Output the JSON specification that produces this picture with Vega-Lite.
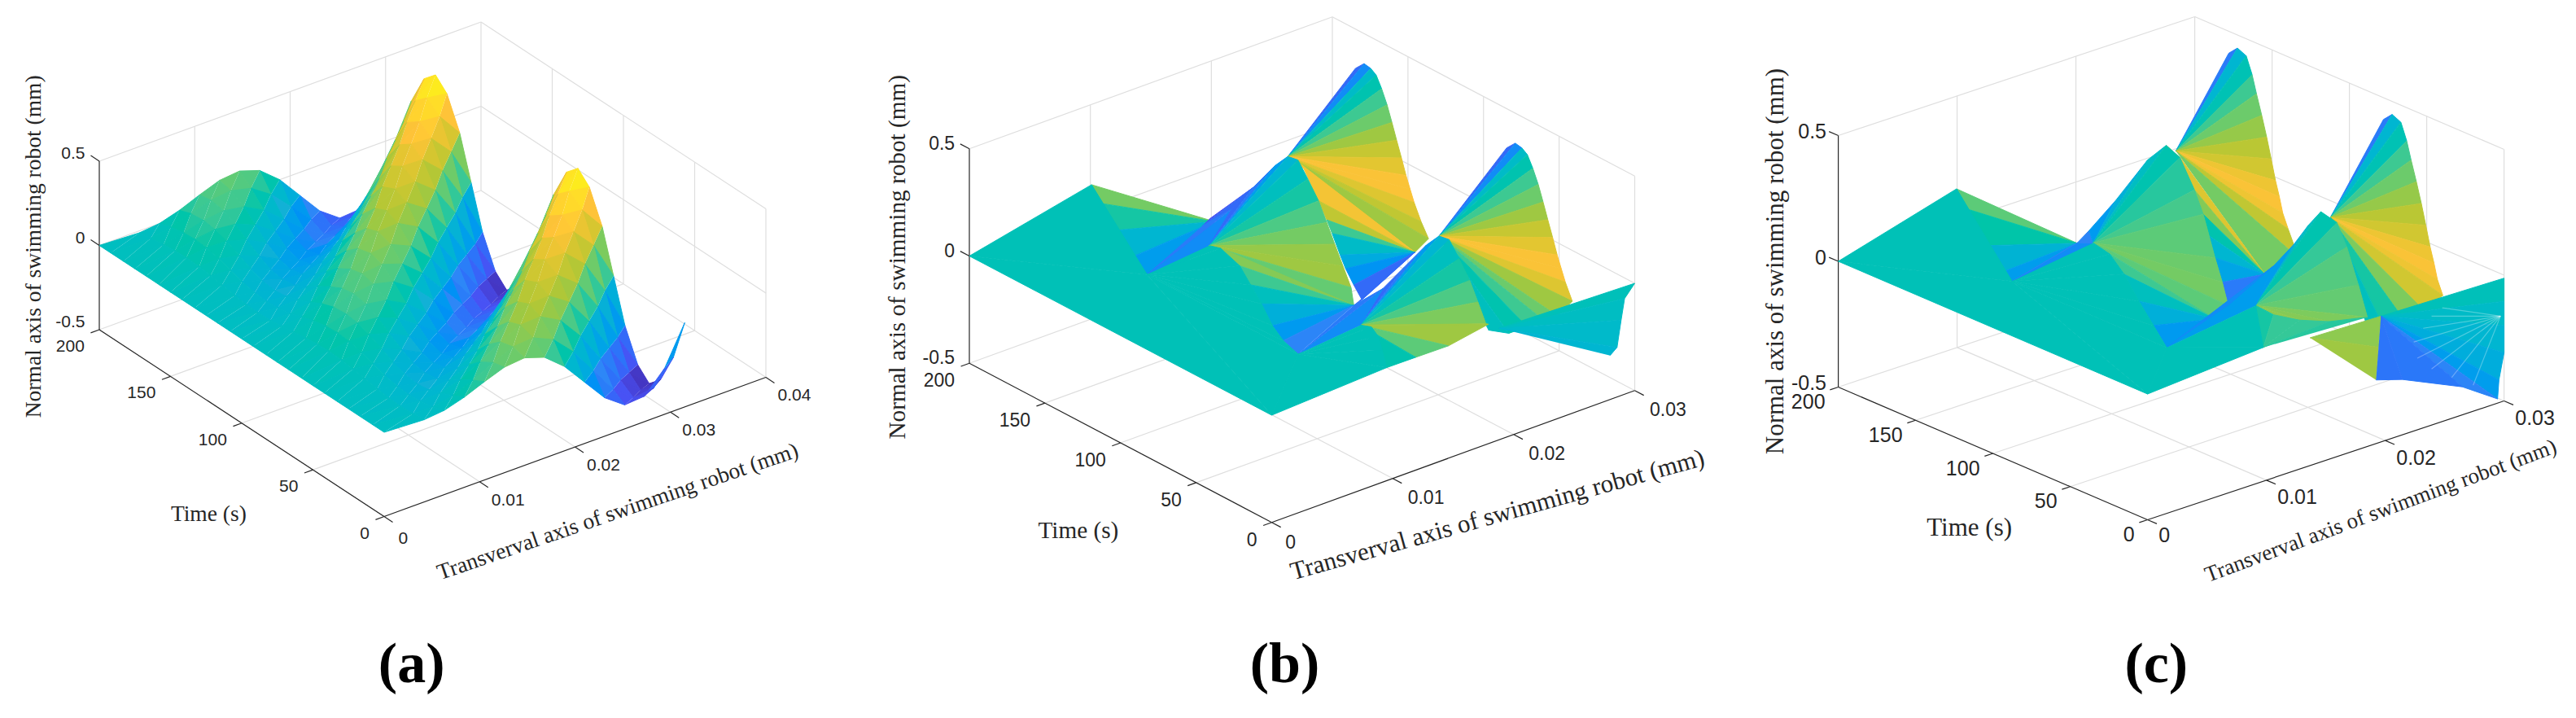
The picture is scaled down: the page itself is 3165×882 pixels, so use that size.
{"$schema":"https://vega.github.io/schema/vega-lite/v6.json","width":3165,"height":882,"autosize":{"type":"none"},"padding":0,"background":"white","config":{"view":{"stroke":null}},
"resolve":{"scale":{"size":"independent"}},
"params":[{"name":"P","value":{"a":{"ox":472,"oy":531,"xm":0.04,"xx":469,"xy":-171,"tx":-350,"ty":-229.5,"zy":207},"b":{"ox":1562.5,"oy":510,"xm":0.03,"xx":446,"xy":-162,"tx":-371.5,"ty":-195.5,"zy":263.5},"c":{"ox":2638.6,"oy":484,"xm":0.03,"xx":438,"xy":-146,"tx":-380,"ty":-163,"zy":309}}}],
"datasets":{
"grid":[
{"p":"a","x":0,"t":0,"z":-0.5,"x2":0,"t2":200,"z2":-0.5},{"p":"a","x":0.01,"t":0,"z":-0.5,"x2":0.01,"t2":200,"z2":-0.5},{"p":"a","x":0.02,"t":0,"z":-0.5,"x2":0.02,"t2":200,"z2":-0.5},{"p":"a","x":0.03,"t":0,"z":-0.5,"x2":0.03,"t2":200,"z2":-0.5},{"p":"a","x":0.04,"t":0,"z":-0.5,"x2":0.04,"t2":200,"z2":-0.5},
{"p":"a","x":0,"t":50,"z":-0.5,"x2":0.04,"t2":50,"z2":-0.5},{"p":"a","x":0,"t":100,"z":-0.5,"x2":0.04,"t2":100,"z2":-0.5},{"p":"a","x":0,"t":150,"z":-0.5,"x2":0.04,"t2":150,"z2":-0.5},{"p":"a","x":0,"t":200,"z":-0.5,"x2":0.04,"t2":200,"z2":-0.5},
{"p":"a","x":0.01,"t":200,"z":-0.5,"x2":0.01,"t2":200,"z2":0.5},{"p":"a","x":0.02,"t":200,"z":-0.5,"x2":0.02,"t2":200,"z2":0.5},{"p":"a","x":0.03,"t":200,"z":-0.5,"x2":0.03,"t2":200,"z2":0.5},{"p":"a","x":0.04,"t":200,"z":-0.5,"x2":0.04,"t2":200,"z2":0.5},
{"p":"a","x":0,"t":200,"z":0,"x2":0.04,"t2":200,"z2":0},{"p":"a","x":0,"t":200,"z":0.5,"x2":0.04,"t2":200,"z2":0.5},
{"p":"a","x":0.04,"t":0,"z":-0.5,"x2":0.04,"t2":0,"z2":0.5},{"p":"a","x":0.04,"t":50,"z":-0.5,"x2":0.04,"t2":50,"z2":0.5},{"p":"a","x":0.04,"t":100,"z":-0.5,"x2":0.04,"t2":100,"z2":0.5},{"p":"a","x":0.04,"t":150,"z":-0.5,"x2":0.04,"t2":150,"z2":0.5},
{"p":"a","x":0.04,"t":0,"z":0,"x2":0.04,"t2":200,"z2":0},{"p":"a","x":0.04,"t":0,"z":0.5,"x2":0.04,"t2":200,"z2":0.5},
{"p":"b","x":0.01,"t":0,"z":-0.5,"x2":0.01,"t2":200,"z2":-0.5},{"p":"b","x":0.02,"t":0,"z":-0.5,"x2":0.02,"t2":200,"z2":-0.5},{"p":"b","x":0.03,"t":0,"z":-0.5,"x2":0.03,"t2":200,"z2":-0.5},
{"p":"b","x":0,"t":50,"z":-0.5,"x2":0.03,"t2":50,"z2":-0.5},{"p":"b","x":0,"t":100,"z":-0.5,"x2":0.03,"t2":100,"z2":-0.5},{"p":"b","x":0,"t":150,"z":-0.5,"x2":0.03,"t2":150,"z2":-0.5},{"p":"b","x":0,"t":200,"z":-0.5,"x2":0.03,"t2":200,"z2":-0.5},
{"p":"b","x":0.01,"t":200,"z":-0.5,"x2":0.01,"t2":200,"z2":0.5},{"p":"b","x":0.02,"t":200,"z":-0.5,"x2":0.02,"t2":200,"z2":0.5},{"p":"b","x":0.03,"t":200,"z":-0.5,"x2":0.03,"t2":200,"z2":0.5},
{"p":"b","x":0,"t":200,"z":0,"x2":0.03,"t2":200,"z2":0},{"p":"b","x":0,"t":200,"z":0.5,"x2":0.03,"t2":200,"z2":0.5},
{"p":"b","x":0.03,"t":0,"z":-0.5,"x2":0.03,"t2":0,"z2":0.5},{"p":"b","x":0.03,"t":50,"z":-0.5,"x2":0.03,"t2":50,"z2":0.5},{"p":"b","x":0.03,"t":100,"z":-0.5,"x2":0.03,"t2":100,"z2":0.5},{"p":"b","x":0.03,"t":150,"z":-0.5,"x2":0.03,"t2":150,"z2":0.5},
{"p":"b","x":0.03,"t":0,"z":0,"x2":0.03,"t2":200,"z2":0},{"p":"b","x":0.03,"t":0,"z":0.5,"x2":0.03,"t2":200,"z2":0.5},
{"p":"c","x":0.01,"t":0,"z":-0.5,"x2":0.01,"t2":200,"z2":-0.5},{"p":"c","x":0.02,"t":0,"z":-0.5,"x2":0.02,"t2":200,"z2":-0.5},{"p":"c","x":0.03,"t":0,"z":-0.5,"x2":0.03,"t2":200,"z2":-0.5},
{"p":"c","x":0,"t":50,"z":-0.5,"x2":0.03,"t2":50,"z2":-0.5},{"p":"c","x":0,"t":100,"z":-0.5,"x2":0.03,"t2":100,"z2":-0.5},{"p":"c","x":0,"t":150,"z":-0.5,"x2":0.03,"t2":150,"z2":-0.5},{"p":"c","x":0,"t":200,"z":-0.5,"x2":0.03,"t2":200,"z2":-0.5},
{"p":"c","x":0.01,"t":200,"z":-0.5,"x2":0.01,"t2":200,"z2":0.5},{"p":"c","x":0.02,"t":200,"z":-0.5,"x2":0.02,"t2":200,"z2":0.5},{"p":"c","x":0.03,"t":200,"z":-0.5,"x2":0.03,"t2":200,"z2":0.5},
{"p":"c","x":0,"t":200,"z":0,"x2":0.03,"t2":200,"z2":0},{"p":"c","x":0,"t":200,"z":0.5,"x2":0.03,"t2":200,"z2":0.5},
{"p":"c","x":0.03,"t":0,"z":-0.5,"x2":0.03,"t2":0,"z2":0.5},{"p":"c","x":0.03,"t":50,"z":-0.5,"x2":0.03,"t2":50,"z2":0.5},{"p":"c","x":0.03,"t":100,"z":-0.5,"x2":0.03,"t2":100,"z2":0.5},{"p":"c","x":0.03,"t":150,"z":-0.5,"x2":0.03,"t2":150,"z2":0.5},
{"p":"c","x":0.03,"t":0,"z":0,"x2":0.03,"t2":200,"z2":0},{"p":"c","x":0.03,"t":0,"z":0.5,"x2":0.03,"t2":200,"z2":0.5}],
"axes":[
{"p":"a","x":0,"t":0,"z":-0.5,"x2":0.04,"t2":0,"z2":-0.5},{"p":"a","x":0,"t":0,"z":-0.5,"x2":0,"t2":200,"z2":-0.5},{"p":"a","x":0,"t":200,"z":-0.5,"x2":0,"t2":200,"z2":0.5},
{"p":"a","x":0,"t":0,"z":-0.5,"x2":0,"t2":-6,"z2":-0.5},{"p":"a","x":0.01,"t":0,"z":-0.5,"x2":0.01,"t2":-6,"z2":-0.5},{"p":"a","x":0.02,"t":0,"z":-0.5,"x2":0.02,"t2":-6,"z2":-0.5},{"p":"a","x":0.03,"t":0,"z":-0.5,"x2":0.03,"t2":-6,"z2":-0.5},{"p":"a","x":0.04,"t":0,"z":-0.5,"x2":0.04,"t2":-6,"z2":-0.5},
{"p":"a","x":0,"t":0,"z":-0.5,"x2":-0.0009,"t2":0,"z2":-0.5},{"p":"a","x":0,"t":50,"z":-0.5,"x2":-0.0009,"t2":50,"z2":-0.5},{"p":"a","x":0,"t":100,"z":-0.5,"x2":-0.0009,"t2":100,"z2":-0.5},{"p":"a","x":0,"t":150,"z":-0.5,"x2":-0.0009,"t2":150,"z2":-0.5},{"p":"a","x":0,"t":200,"z":-0.5,"x2":-0.0009,"t2":200,"z2":-0.5},
{"p":"a","x":0,"t":200,"z":0,"x2":0,"t2":206,"z2":0},{"p":"a","x":0,"t":200,"z":0.5,"x2":0,"t2":206,"z2":0.5},
{"p":"b","x":0,"t":0,"z":-0.5,"x2":0.03,"t2":0,"z2":-0.5},{"p":"b","x":0,"t":0,"z":-0.5,"x2":0,"t2":200,"z2":-0.5},{"p":"b","x":0,"t":200,"z":-0.5,"x2":0,"t2":200,"z2":0.5},
{"p":"b","x":0,"t":0,"z":-0.5,"x2":0,"t2":-6,"z2":-0.5},{"p":"b","x":0.01,"t":0,"z":-0.5,"x2":0.01,"t2":-6,"z2":-0.5},{"p":"b","x":0.02,"t":0,"z":-0.5,"x2":0.02,"t2":-6,"z2":-0.5},{"p":"b","x":0.03,"t":0,"z":-0.5,"x2":0.03,"t2":-6,"z2":-0.5},
{"p":"b","x":0,"t":0,"z":-0.5,"x2":-0.0007,"t2":0,"z2":-0.5},{"p":"b","x":0,"t":50,"z":-0.5,"x2":-0.0007,"t2":50,"z2":-0.5},{"p":"b","x":0,"t":100,"z":-0.5,"x2":-0.0007,"t2":100,"z2":-0.5},{"p":"b","x":0,"t":150,"z":-0.5,"x2":-0.0007,"t2":150,"z2":-0.5},{"p":"b","x":0,"t":200,"z":-0.5,"x2":-0.0007,"t2":200,"z2":-0.5},
{"p":"b","x":0,"t":200,"z":0,"x2":0,"t2":206,"z2":0},{"p":"b","x":0,"t":200,"z":0.5,"x2":0,"t2":206,"z2":0.5},
{"p":"c","x":0,"t":0,"z":-0.5,"x2":0.03,"t2":0,"z2":-0.5},{"p":"c","x":0,"t":0,"z":-0.5,"x2":0,"t2":200,"z2":-0.5},{"p":"c","x":0,"t":200,"z":-0.5,"x2":0,"t2":200,"z2":0.5},
{"p":"c","x":0,"t":0,"z":-0.5,"x2":0,"t2":-6,"z2":-0.5},{"p":"c","x":0.01,"t":0,"z":-0.5,"x2":0.01,"t2":-6,"z2":-0.5},{"p":"c","x":0.02,"t":0,"z":-0.5,"x2":0.02,"t2":-6,"z2":-0.5},{"p":"c","x":0.03,"t":0,"z":-0.5,"x2":0.03,"t2":-6,"z2":-0.5},
{"p":"c","x":0,"t":0,"z":-0.5,"x2":-0.0007,"t2":0,"z2":-0.5},{"p":"c","x":0,"t":50,"z":-0.5,"x2":-0.0007,"t2":50,"z2":-0.5},{"p":"c","x":0,"t":100,"z":-0.5,"x2":-0.0007,"t2":100,"z2":-0.5},{"p":"c","x":0,"t":150,"z":-0.5,"x2":-0.0007,"t2":150,"z2":-0.5},{"p":"c","x":0,"t":200,"z":-0.5,"x2":-0.0007,"t2":200,"z2":-0.5},
{"p":"c","x":0,"t":200,"z":0,"x2":0,"t2":206,"z2":0},{"p":"c","x":0,"t":200,"z":0.5,"x2":0,"t2":206,"z2":0.5}],
"moire":[
{"p":"c","x":0.0297,"t":0,"z":-0.158,"x2":0.0248,"t2":0,"z2":-0.048},{"p":"c","x":0.0297,"t":0,"z":-0.158,"x2":0.0239,"t2":0,"z2":-0.067},{"p":"c","x":0.0297,"t":0,"z":-0.158,"x2":0.0232,"t2":0,"z2":-0.104},{"p":"c","x":0.0297,"t":0,"z":-0.158,"x2":0.0224,"t2":0,"z2":-0.146},{"p":"c","x":0.0297,"t":0,"z":-0.158,"x2":0.0227,"t2":0,"z2":-0.215},{"p":"c","x":0.0297,"t":0,"z":-0.158,"x2":0.0239,"t2":0,"z2":-0.277},{"p":"c","x":0.0297,"t":0,"z":-0.158,"x2":0.0256,"t2":0,"z2":-0.337},{"p":"c","x":0.0297,"t":0,"z":-0.158,"x2":0.0274,"t2":0,"z2":-0.397}],
"surfaceA":[
{"t":200,"x":0.0315,"z":0},{"t":200,"x":0.0294,"z":-0.226},{"t":200,"x":0.0273,"z":-0.349},{"t":200,"x":0.0252,"z":-0.358},{"t":200,"x":0.0231,"z":-0.272},{"t":200,"x":0.021,"z":-0.136},{"t":200,"x":0.0189,"z":0},{"t":200,"x":0.0168,"z":0.098},{"t":200,"x":0.0147,"z":0.138},{"t":200,"x":0.0126,"z":0.126},{"t":200,"x":0.0105,"z":0.083},{"t":200,"x":0.0084,"z":0.035},{"t":200,"x":0.0063,"z":0},{"t":200,"x":0.0042,"z":-0.012},{"t":200,"x":0,"z":0},
{"t":192,"x":0.0315,"z":0.25},{"t":192,"x":0.0294,"z":0},{"t":192,"x":0.0273,"z":-0.202},{"t":192,"x":0.0252,"z":-0.31},{"t":192,"x":0.0231,"z":-0.314},{"t":192,"x":0.021,"z":-0.236},{"t":192,"x":0.0189,"z":-0.116},{"t":192,"x":0.0168,"z":0},{"t":192,"x":0.0147,"z":0.08},{"t":192,"x":0.0126,"z":0.109},{"t":192,"x":0.0105,"z":0.096},{"t":192,"x":0.0084,"z":0.06},{"t":192,"x":0.0063,"z":0.023},{"t":192,"x":0.0042,"z":0},{"t":192,"x":0,"z":0},
{"t":183,"x":0.0315,"z":0.433},{"t":183,"x":0.0294,"z":0.226},{"t":183,"x":0.0273,"z":0},{"t":183,"x":0.0252,"z":-0.179},{"t":183,"x":0.0231,"z":-0.272},{"t":183,"x":0.021,"z":-0.272},{"t":183,"x":0.0189,"z":-0.201},{"t":183,"x":0.0168,"z":-0.098},{"t":183,"x":0.0147,"z":0},{"t":183,"x":0.0126,"z":0.063},{"t":183,"x":0.0105,"z":0.083},{"t":183,"x":0.0084,"z":0.069},{"t":183,"x":0.0063,"z":0.039},{"t":183,"x":0.0042,"z":0.012},{"t":183,"x":0,"z":0},
{"t":175,"x":0.0315,"z":0.5},{"t":175,"x":0.0294,"z":0.391},{"t":175,"x":0.0273,"z":0.202},{"t":175,"x":0.0252,"z":0},{"t":175,"x":0.0231,"z":-0.157},{"t":175,"x":0.021,"z":-0.236},{"t":175,"x":0.0189,"z":-0.232},{"t":175,"x":0.0168,"z":-0.169},{"t":175,"x":0.0147,"z":-0.08},{"t":175,"x":0.0126,"z":0},{"t":175,"x":0.0105,"z":0.048},{"t":175,"x":0.0084,"z":0.06},{"t":175,"x":0.0063,"z":0.045},{"t":175,"x":0.0042,"z":0.021},{"t":175,"x":0,"z":0},
{"t":167,"x":0.0315,"z":0.433},{"t":167,"x":0.0294,"z":0.451},{"t":167,"x":0.0273,"z":0.349},{"t":167,"x":0.0252,"z":0.179},{"t":167,"x":0.0231,"z":0},{"t":167,"x":0.021,"z":-0.136},{"t":167,"x":0.0189,"z":-0.201},{"t":167,"x":0.0168,"z":-0.195},{"t":167,"x":0.0147,"z":-0.138},{"t":167,"x":0.0126,"z":-0.063},{"t":167,"x":0.0105,"z":0},{"t":167,"x":0.0084,"z":0.035},{"t":167,"x":0.0063,"z":0.039},{"t":167,"x":0.0042,"z":0.024},{"t":167,"x":0,"z":0},
{"t":158,"x":0.0315,"z":0.25},{"t":158,"x":0.0294,"z":0.391},{"t":158,"x":0.0273,"z":0.403},{"t":158,"x":0.0252,"z":0.31},{"t":158,"x":0.0231,"z":0.157},{"t":158,"x":0.021,"z":0},{"t":158,"x":0.0189,"z":-0.116},{"t":158,"x":0.0168,"z":-0.169},{"t":158,"x":0.0147,"z":-0.159},{"t":158,"x":0.0126,"z":-0.109},{"t":158,"x":0.0105,"z":-0.048},{"t":158,"x":0.0084,"z":0},{"t":158,"x":0.0063,"z":0.023},{"t":158,"x":0.0042,"z":0.021},{"t":158,"x":0,"z":0},
{"t":150,"x":0.0315,"z":0},{"t":150,"x":0.0294,"z":0.226},{"t":150,"x":0.0273,"z":0.349},{"t":150,"x":0.0252,"z":0.358},{"t":150,"x":0.0231,"z":0.272},{"t":150,"x":0.021,"z":0.136},{"t":150,"x":0.0189,"z":0},{"t":150,"x":0.0168,"z":-0.098},{"t":150,"x":0.0147,"z":-0.138},{"t":150,"x":0.0126,"z":-0.126},{"t":150,"x":0.0105,"z":-0.083},{"t":150,"x":0.0084,"z":-0.035},{"t":150,"x":0.0063,"z":0},{"t":150,"x":0.0042,"z":0.012},{"t":150,"x":0,"z":0},
{"t":142,"x":0.0315,"z":-0.25},{"t":142,"x":0.0294,"z":0},{"t":142,"x":0.0273,"z":0.202},{"t":142,"x":0.0252,"z":0.31},{"t":142,"x":0.0231,"z":0.314},{"t":142,"x":0.021,"z":0.236},{"t":142,"x":0.0189,"z":0.116},{"t":142,"x":0.0168,"z":0},{"t":142,"x":0.0147,"z":-0.08},{"t":142,"x":0.0126,"z":-0.109},{"t":142,"x":0.0105,"z":-0.096},{"t":142,"x":0.0084,"z":-0.06},{"t":142,"x":0.0063,"z":-0.023},{"t":142,"x":0.0042,"z":0},{"t":142,"x":0,"z":0},
{"t":133,"x":0.0315,"z":-0.433},{"t":133,"x":0.0294,"z":-0.226},{"t":133,"x":0.0273,"z":0},{"t":133,"x":0.0252,"z":0.179},{"t":133,"x":0.0231,"z":0.272},{"t":133,"x":0.021,"z":0.272},{"t":133,"x":0.0189,"z":0.201},{"t":133,"x":0.0168,"z":0.098},{"t":133,"x":0.0147,"z":0},{"t":133,"x":0.0126,"z":-0.063},{"t":133,"x":0.0105,"z":-0.083},{"t":133,"x":0.0084,"z":-0.069},{"t":133,"x":0.0063,"z":-0.039},{"t":133,"x":0.0042,"z":-0.012},{"t":133,"x":0,"z":0},
{"t":125,"x":0.0315,"z":-0.5},{"t":125,"x":0.0294,"z":-0.391},{"t":125,"x":0.0273,"z":-0.202},{"t":125,"x":0.0252,"z":0},{"t":125,"x":0.0231,"z":0.157},{"t":125,"x":0.021,"z":0.236},{"t":125,"x":0.0189,"z":0.232},{"t":125,"x":0.0168,"z":0.169},{"t":125,"x":0.0147,"z":0.08},{"t":125,"x":0.0126,"z":0},{"t":125,"x":0.0105,"z":-0.048},{"t":125,"x":0.0084,"z":-0.06},{"t":125,"x":0.0063,"z":-0.045},{"t":125,"x":0.0042,"z":-0.021},{"t":125,"x":0,"z":0},
{"t":117,"x":0.0315,"z":-0.433},{"t":117,"x":0.0294,"z":-0.451},{"t":117,"x":0.0273,"z":-0.349},{"t":117,"x":0.0252,"z":-0.179},{"t":117,"x":0.0231,"z":0},{"t":117,"x":0.021,"z":0.136},{"t":117,"x":0.0189,"z":0.201},{"t":117,"x":0.0168,"z":0.195},{"t":117,"x":0.0147,"z":0.138},{"t":117,"x":0.0126,"z":0.063},{"t":117,"x":0.0105,"z":0},{"t":117,"x":0.0084,"z":-0.035},{"t":117,"x":0.0063,"z":-0.039},{"t":117,"x":0.0042,"z":-0.024},{"t":117,"x":0,"z":0},
{"t":108,"x":0.0315,"z":-0.25},{"t":108,"x":0.0294,"z":-0.391},{"t":108,"x":0.0273,"z":-0.403},{"t":108,"x":0.0252,"z":-0.31},{"t":108,"x":0.0231,"z":-0.157},{"t":108,"x":0.021,"z":0},{"t":108,"x":0.0189,"z":0.116},{"t":108,"x":0.0168,"z":0.169},{"t":108,"x":0.0147,"z":0.159},{"t":108,"x":0.0126,"z":0.109},{"t":108,"x":0.0105,"z":0.048},{"t":108,"x":0.0084,"z":0},{"t":108,"x":0.0063,"z":-0.023},{"t":108,"x":0.0042,"z":-0.021},{"t":108,"x":0,"z":0},
{"t":100,"x":0.0315,"z":0},{"t":100,"x":0.0294,"z":-0.226},{"t":100,"x":0.0273,"z":-0.349},{"t":100,"x":0.0252,"z":-0.358},{"t":100,"x":0.0231,"z":-0.272},{"t":100,"x":0.021,"z":-0.136},{"t":100,"x":0.0189,"z":0},{"t":100,"x":0.0168,"z":0.098},{"t":100,"x":0.0147,"z":0.138},{"t":100,"x":0.0126,"z":0.126},{"t":100,"x":0.0105,"z":0.083},{"t":100,"x":0.0084,"z":0.035},{"t":100,"x":0.0063,"z":0},{"t":100,"x":0.0042,"z":-0.012},{"t":100,"x":0,"z":0},
{"t":92,"x":0.0315,"z":0.25},{"t":92,"x":0.0294,"z":0},{"t":92,"x":0.0273,"z":-0.202},{"t":92,"x":0.0252,"z":-0.31},{"t":92,"x":0.0231,"z":-0.314},{"t":92,"x":0.021,"z":-0.236},{"t":92,"x":0.0189,"z":-0.116},{"t":92,"x":0.0168,"z":0},{"t":92,"x":0.0147,"z":0.08},{"t":92,"x":0.0126,"z":0.109},{"t":92,"x":0.0105,"z":0.096},{"t":92,"x":0.0084,"z":0.06},{"t":92,"x":0.0063,"z":0.023},{"t":92,"x":0.0042,"z":0},{"t":92,"x":0,"z":0},
{"t":83,"x":0.0315,"z":0.433},{"t":83,"x":0.0294,"z":0.226},{"t":83,"x":0.0273,"z":0},{"t":83,"x":0.0252,"z":-0.179},{"t":83,"x":0.0231,"z":-0.272},{"t":83,"x":0.021,"z":-0.272},{"t":83,"x":0.0189,"z":-0.201},{"t":83,"x":0.0168,"z":-0.098},{"t":83,"x":0.0147,"z":0},{"t":83,"x":0.0126,"z":0.063},{"t":83,"x":0.0105,"z":0.083},{"t":83,"x":0.0084,"z":0.069},{"t":83,"x":0.0063,"z":0.039},{"t":83,"x":0.0042,"z":0.012},{"t":83,"x":0,"z":0},
{"t":75,"x":0.0315,"z":0.5},{"t":75,"x":0.0294,"z":0.391},{"t":75,"x":0.0273,"z":0.202},{"t":75,"x":0.0252,"z":0},{"t":75,"x":0.0231,"z":-0.157},{"t":75,"x":0.021,"z":-0.236},{"t":75,"x":0.0189,"z":-0.232},{"t":75,"x":0.0168,"z":-0.169},{"t":75,"x":0.0147,"z":-0.08},{"t":75,"x":0.0126,"z":0},{"t":75,"x":0.0105,"z":0.048},{"t":75,"x":0.0084,"z":0.06},{"t":75,"x":0.0063,"z":0.045},{"t":75,"x":0.0042,"z":0.021},{"t":75,"x":0,"z":0},
{"t":67,"x":0.0315,"z":0.433},{"t":67,"x":0.0294,"z":0.451},{"t":67,"x":0.0273,"z":0.349},{"t":67,"x":0.0252,"z":0.179},{"t":67,"x":0.0231,"z":0},{"t":67,"x":0.021,"z":-0.136},{"t":67,"x":0.0189,"z":-0.201},{"t":67,"x":0.0168,"z":-0.195},{"t":67,"x":0.0147,"z":-0.138},{"t":67,"x":0.0126,"z":-0.063},{"t":67,"x":0.0105,"z":0},{"t":67,"x":0.0084,"z":0.035},{"t":67,"x":0.0063,"z":0.039},{"t":67,"x":0.0042,"z":0.024},{"t":67,"x":0,"z":0},
{"t":58,"x":0.0315,"z":0.25},{"t":58,"x":0.0294,"z":0.391},{"t":58,"x":0.0273,"z":0.403},{"t":58,"x":0.0252,"z":0.31},{"t":58,"x":0.0231,"z":0.157},{"t":58,"x":0.021,"z":0},{"t":58,"x":0.0189,"z":-0.116},{"t":58,"x":0.0168,"z":-0.169},{"t":58,"x":0.0147,"z":-0.159},{"t":58,"x":0.0126,"z":-0.109},{"t":58,"x":0.0105,"z":-0.048},{"t":58,"x":0.0084,"z":0},{"t":58,"x":0.0063,"z":0.023},{"t":58,"x":0.0042,"z":0.021},{"t":58,"x":0,"z":0},
{"t":50,"x":0.0315,"z":0},{"t":50,"x":0.0294,"z":0.226},{"t":50,"x":0.0273,"z":0.349},{"t":50,"x":0.0252,"z":0.358},{"t":50,"x":0.0231,"z":0.272},{"t":50,"x":0.021,"z":0.136},{"t":50,"x":0.0189,"z":0},{"t":50,"x":0.0168,"z":-0.098},{"t":50,"x":0.0147,"z":-0.138},{"t":50,"x":0.0126,"z":-0.126},{"t":50,"x":0.0105,"z":-0.083},{"t":50,"x":0.0084,"z":-0.035},{"t":50,"x":0.0063,"z":0},{"t":50,"x":0.0042,"z":0.012},{"t":50,"x":0,"z":0},
{"t":42,"x":0.0315,"z":-0.25},{"t":42,"x":0.0294,"z":0},{"t":42,"x":0.0273,"z":0.202},{"t":42,"x":0.0252,"z":0.31},{"t":42,"x":0.0231,"z":0.314},{"t":42,"x":0.021,"z":0.236},{"t":42,"x":0.0189,"z":0.116},{"t":42,"x":0.0168,"z":0},{"t":42,"x":0.0147,"z":-0.08},{"t":42,"x":0.0126,"z":-0.109},{"t":42,"x":0.0105,"z":-0.096},{"t":42,"x":0.0084,"z":-0.06},{"t":42,"x":0.0063,"z":-0.023},{"t":42,"x":0.0042,"z":0},{"t":42,"x":0,"z":0},
{"t":33,"x":0.0315,"z":-0.433},{"t":33,"x":0.0294,"z":-0.226},{"t":33,"x":0.0273,"z":0},{"t":33,"x":0.0252,"z":0.179},{"t":33,"x":0.0231,"z":0.272},{"t":33,"x":0.021,"z":0.272},{"t":33,"x":0.0189,"z":0.201},{"t":33,"x":0.0168,"z":0.098},{"t":33,"x":0.0147,"z":0},{"t":33,"x":0.0126,"z":-0.063},{"t":33,"x":0.0105,"z":-0.083},{"t":33,"x":0.0084,"z":-0.069},{"t":33,"x":0.0063,"z":-0.039},{"t":33,"x":0.0042,"z":-0.012},{"t":33,"x":0,"z":0},
{"t":25,"x":0.0315,"z":-0.5},{"t":25,"x":0.0294,"z":-0.391},{"t":25,"x":0.0273,"z":-0.202},{"t":25,"x":0.0252,"z":0},{"t":25,"x":0.0231,"z":0.157},{"t":25,"x":0.021,"z":0.236},{"t":25,"x":0.0189,"z":0.232},{"t":25,"x":0.0168,"z":0.169},{"t":25,"x":0.0147,"z":0.08},{"t":25,"x":0.0126,"z":0},{"t":25,"x":0.0105,"z":-0.048},{"t":25,"x":0.0084,"z":-0.06},{"t":25,"x":0.0063,"z":-0.045},{"t":25,"x":0.0042,"z":-0.021},{"t":25,"x":0,"z":0},
{"t":17,"x":0.0315,"z":-0.433},{"t":17,"x":0.0294,"z":-0.451},{"t":17,"x":0.0273,"z":-0.349},{"t":17,"x":0.0252,"z":-0.179},{"t":17,"x":0.0231,"z":0},{"t":17,"x":0.021,"z":0.136},{"t":17,"x":0.0189,"z":0.201},{"t":17,"x":0.0168,"z":0.195},{"t":17,"x":0.0147,"z":0.138},{"t":17,"x":0.0126,"z":0.063},{"t":17,"x":0.0105,"z":0},{"t":17,"x":0.0084,"z":-0.035},{"t":17,"x":0.0063,"z":-0.039},{"t":17,"x":0.0042,"z":-0.024},{"t":17,"x":0,"z":0},
{"t":8,"x":0.0315,"z":-0.25},{"t":8,"x":0.0294,"z":-0.391},{"t":8,"x":0.0273,"z":-0.403},{"t":8,"x":0.0252,"z":-0.31},{"t":8,"x":0.0231,"z":-0.157},{"t":8,"x":0.021,"z":0},{"t":8,"x":0.0189,"z":0.116},{"t":8,"x":0.0168,"z":0.169},{"t":8,"x":0.0147,"z":0.159},{"t":8,"x":0.0126,"z":0.109},{"t":8,"x":0.0105,"z":0.048},{"t":8,"x":0.0084,"z":0},{"t":8,"x":0.0063,"z":-0.023},{"t":8,"x":0.0042,"z":-0.021},{"t":8,"x":0,"z":0},
{"t":0,"x":0.0315,"z":0},{"t":0,"x":0.0294,"z":-0.226},{"t":0,"x":0.0273,"z":-0.349},{"t":0,"x":0.0252,"z":-0.358},{"t":0,"x":0.0231,"z":-0.272},{"t":0,"x":0.021,"z":-0.136},{"t":0,"x":0.0189,"z":0},{"t":0,"x":0.0168,"z":0.098},{"t":0,"x":0.0147,"z":0.138},{"t":0,"x":0.0126,"z":0.126},{"t":0,"x":0.0105,"z":0.083},{"t":0,"x":0.0084,"z":0.035},{"t":0,"x":0.0063,"z":0},{"t":0,"x":0.0042,"z":-0.012},{"t":0,"x":0,"z":0}],
"fans":[
{"f":"b00","i":0,"x":0.015,"t":158,"z":0.009,"c":0},{"f":"b00","i":1,"x":0.0126,"t":220,"z":0,"c":0.15},{"f":"b00","i":2,"x":0.0135,"t":222.5,"z":-0.113,"c":0.05},{"f":"b00","i":3,"x":0.0141,"t":218.2,"z":-0.238,"c":-0.05},{"f":"b00","i":4,"x":0.0144,"t":209.7,"z":-0.342,"c":-0.15},{"f":"b00","i":5,"x":0.015,"t":202.6,"z":-0.403,"c":-0.22},{"f":"b00","i":6,"x":0.015,"t":178.2,"z":-0.259,"c":0},{"f":"b00","i":7,"x":0.0127,"t":143,"z":0,"c":0},
{"f":"b01","i":0,"x":0.018,"t":156.2,"z":0.114,"c":0},{"f":"b01","i":1,"x":0.015,"t":160.7,"z":0.014,"c":-0.36},{"f":"b01","i":2,"x":0.024,"t":237.8,"z":-0.491,"c":-0.3},{"f":"b01","i":3,"x":0.018,"t":170.5,"z":-0.04,"c":0},
{"f":"b02","i":0,"x":0.02,"t":149.4,"z":0.242,"c":0},{"f":"b02","i":1,"x":0.03,"t":184.7,"z":0.317,"c":-0.3},{"f":"b02","i":2,"x":0.03,"t":179,"z":0.36,"c":-0.2},{"f":"b02","i":3,"x":0.03,"t":174.6,"z":0.354,"c":-0.02},{"f":"b02","i":4,"x":0.03,"t":171,"z":0.336,"c":0.03},{"f":"b02","i":5,"x":0.03,"t":167.4,"z":0.286,"c":0.08},{"f":"b02","i":6,"x":0.03,"t":163.8,"z":0.224,"c":0.14},{"f":"b02","i":7,"x":0.03,"t":160.6,"z":0.154,"c":0.2},{"f":"b02","i":8,"x":0.03,"t":157.5,"z":0.083,"c":0.26},{"f":"b02","i":9,"x":0.03,"t":154.3,"z":0.012,"c":0.31},{"f":"b02","i":10,"x":0.03,"t":151.3,"z":-0.058,"c":0.35},{"f":"b02","i":11,"x":0.03,"t":148.6,"z":-0.112,"c":0.35},{"f":"b02","i":12,"x":0.03,"t":145.9,"z":-0.165,"c":0.3},{"f":"b02","i":13,"x":0.03,"t":141.3,"z":-0.237,"c":0.25},{"f":"b02","i":14,"x":0.03,"t":136.4,"z":-0.298,"c":0.2},{"f":"b02","i":15,"x":0.024,"t":97.4,"z":-0.094,"c":0},
{"f":"b03","i":0,"x":0.024,"t":97.4,"z":-0.094,"c":0},{"f":"b03","i":1,"x":0.02,"t":149.4,"z":0.242,"c":0.33},{"f":"b03","i":2,"x":0.024,"t":171.9,"z":0.035,"c":0.34},{"f":"b03","i":3,"x":0.024,"t":161.1,"z":-0.09,"c":0.25},{"f":"b03","i":4,"x":0.024,"t":155.7,"z":-0.159,"c":0.08},{"f":"b03","i":5,"x":0.024,"t":152.1,"z":-0.209,"c":-0.02},{"f":"b03","i":6,"x":0.024,"t":146.8,"z":-0.29,"c":-0.1},{"f":"b03","i":7,"x":0.024,"t":143.2,"z":-0.34,"c":-0.18},{"f":"b03","i":8,"x":0.024,"t":137.8,"z":-0.396,"c":-0.3},{"f":"b03","i":9,"x":0.024,"t":132.4,"z":-0.445,"c":-0.3},{"f":"b03","i":10,"x":0.024,"t":137.8,"z":-0.491,"c":0},
{"f":"b04","i":0,"x":0.015,"t":202.6,"z":-0.403,"c":0},{"f":"b04","i":1,"x":0.0127,"t":143,"z":0,"c":-0.2},{"f":"b04","i":2,"x":0.018,"t":170.5,"z":-0.04,"c":-0.25},{"f":"b04","i":3,"x":0.024,"t":237.8,"z":-0.491,"c":0},
{"f":"b05","i":0,"x":0.0127,"t":143,"z":0,"c":0},{"f":"b05","i":1,"x":0.018,"t":170.5,"z":-0.04,"c":-0.3},{"f":"b05","i":2,"x":0.018,"t":156.2,"z":0.114,"c":-0.25},{"f":"b05","i":3,"x":0.018,"t":141.8,"z":0.269,"c":-0.15},{"f":"b05","i":4,"x":0.02,"t":149.4,"z":0.242,"c":-0.05},{"f":"b05","i":5,"x":0.02,"t":142.7,"z":0.25,"c":0},{"f":"b05","i":6,"x":0.024,"t":168.2,"z":-0.015,"c":0.05},{"f":"b05","i":7,"x":0.024,"t":161.1,"z":-0.09,"c":0.1},{"f":"b05","i":8,"x":0.024,"t":155.7,"z":-0.171,"c":0.15},{"f":"b05","i":9,"x":0.024,"t":150.4,"z":-0.253,"c":0.19},{"f":"b05","i":10,"x":0.024,"t":145,"z":-0.334,"c":0.2},{"f":"b05","i":11,"x":0.024,"t":139.6,"z":-0.415,"c":0.13},{"f":"b05","i":12,"x":0.024,"t":137.8,"z":-0.491,"c":0},
{"f":"b06","i":0,"x":0.024,"t":137.8,"z":-0.491,"c":0},{"f":"b06","i":1,"x":0.0127,"t":143,"z":0,"c":0.2},{"f":"b06","i":2,"x":0.015,"t":153.9,"z":-0.1,"c":0.17},{"f":"b06","i":3,"x":0.015,"t":141.2,"z":-0.135,"c":0.08},{"f":"b06","i":4,"x":0.015,"t":134,"z":-0.197,"c":0},{"f":"b06","i":5,"x":0.015,"t":126.8,"z":-0.259,"c":-0.08},{"f":"b06","i":6,"x":0.015,"t":119.6,"z":-0.334,"c":-0.16},{"f":"b06","i":7,"x":0.015,"t":112.4,"z":-0.377,"c":-0.22},{"f":"b06","i":8,"x":0.015,"t":102.6,"z":-0.403,"c":0},
{"f":"b07","i":0,"x":0.02,"t":49.4,"z":0.242,"c":0},{"f":"b07","i":1,"x":0.03,"t":84.7,"z":0.317,"c":-0.3},{"f":"b07","i":2,"x":0.03,"t":79,"z":0.36,"c":-0.2},{"f":"b07","i":3,"x":0.03,"t":74.6,"z":0.354,"c":-0.02},{"f":"b07","i":4,"x":0.03,"t":71,"z":0.336,"c":0.03},{"f":"b07","i":5,"x":0.03,"t":67.4,"z":0.286,"c":0.08},{"f":"b07","i":6,"x":0.03,"t":63.8,"z":0.224,"c":0.14},{"f":"b07","i":7,"x":0.03,"t":60.6,"z":0.154,"c":0.2},{"f":"b07","i":8,"x":0.03,"t":57.5,"z":0.083,"c":0.26},{"f":"b07","i":9,"x":0.03,"t":54.3,"z":0.012,"c":0.31},{"f":"b07","i":10,"x":0.03,"t":51.3,"z":-0.058,"c":0.35},{"f":"b07","i":11,"x":0.03,"t":48.6,"z":-0.112,"c":0.35},{"f":"b07","i":12,"x":0.03,"t":45.9,"z":-0.165,"c":0.3},{"f":"b07","i":13,"x":0.03,"t":41.3,"z":-0.237,"c":0.2},{"f":"b07","i":14,"x":0.0236,"t":0,"z":-0.02,"c":0.14},{"f":"b07","i":15,"x":0.0225,"t":0,"z":-0.02,"c":0.08},{"f":"b07","i":16,"x":0.0211,"t":0,"z":-0.02,"c":0.03},{"f":"b07","i":17,"x":0.0196,"t":0,"z":-0.02,"c":0},{"f":"b07","i":18,"x":0.0179,"t":0,"z":0.03,"c":0},
{"f":"b08","i":0,"x":0.0127,"t":43,"z":0,"c":0},{"f":"b08","i":1,"x":0.018,"t":70.5,"z":-0.04,"c":-0.3},{"f":"b08","i":2,"x":0.018,"t":56.2,"z":0.114,"c":-0.25},{"f":"b08","i":3,"x":0.018,"t":41.8,"z":0.269,"c":-0.15},{"f":"b08","i":4,"x":0.02,"t":49.4,"z":0.242,"c":-0.05},{"f":"b08","i":5,"x":0.02,"t":42.7,"z":0.25,"c":0},{"f":"b08","i":6,"x":0.024,"t":68.2,"z":-0.015,"c":0.05},{"f":"b08","i":7,"x":0.024,"t":61.1,"z":-0.09,"c":0.1},{"f":"b08","i":8,"x":0.024,"t":55.7,"z":-0.171,"c":0.16},{"f":"b08","i":9,"x":0.024,"t":50.4,"z":-0.253,"c":0.2},{"f":"b08","i":10,"x":0.0179,"t":0,"z":0.057,"c":0.2},{"f":"b08","i":11,"x":0.0146,"t":0,"z":0.024,"c":0.12},{"f":"b08","i":12,"x":0.0119,"t":0,"z":0.026,"c":0.03},{"f":"b08","i":13,"x":0.0095,"t":0,"z":0.027,"c":0},
{"f":"b09","i":0,"x":0.015,"t":102.6,"z":-0.403,"c":0},{"f":"b09","i":1,"x":0.0127,"t":43,"z":0,"c":-0.2},{"f":"b09","i":2,"x":0.018,"t":70.5,"z":-0.04,"c":-0.25},{"f":"b09","i":3,"x":0.024,"t":137.8,"z":-0.491,"c":0},
{"f":"b10","i":0,"x":0.0188,"t":0,"z":0.02,"c":0},{"f":"b10","i":1,"x":0.03,"t":0,"z":0,"c":0.01},{"f":"b10","i":2,"x":0.03,"t":6.7,"z":-0.096,"c":-0.01},{"f":"b10","i":3,"x":0.03,"t":9,"z":-0.205,"c":-0.03},{"f":"b10","i":4,"x":0.03,"t":11.7,"z":-0.342,"c":-0.05},{"f":"b10","i":5,"x":0.03,"t":16.3,"z":-0.397,"c":0},
{"f":"b11","i":0,"x":0.015,"t":202.6,"z":-0.403,"c":0.015},{"f":"b11","i":1,"x":0.0144,"t":209.7,"z":-0.342,"c":0.015},{"f":"b11","i":2,"x":0.0141,"t":218.2,"z":-0.238,"c":0.015},{"f":"b11","i":3,"x":0.0135,"t":222.5,"z":-0.113,"c":0.015},{"f":"b11","i":4,"x":0.0126,"t":220,"z":0,"c":0.015},{"f":"b11","i":5,"x":0,"t":200,"z":0,"c":0.015},{"f":"b11","i":6,"x":0,"t":0,"z":0,"c":0.015},{"f":"b11","i":7,"x":0.015,"t":102.6,"z":-0.403,"c":0.015},{"f":"b11","i":8,"x":0.015,"t":112.4,"z":-0.377,"c":0.015},{"f":"b11","i":9,"x":0.015,"t":119.6,"z":-0.334,"c":0.015},{"f":"b11","i":10,"x":0.015,"t":126.8,"z":-0.259,"c":0.015},{"f":"b11","i":11,"x":0.015,"t":134,"z":-0.197,"c":0.015},{"f":"b11","i":12,"x":0.015,"t":141.2,"z":-0.135,"c":0.015},{"f":"b11","i":13,"x":0.015,"t":153.9,"z":-0.1,"c":0.015},{"f":"b11","i":14,"x":0.0127,"t":143,"z":0,"c":0.015},
{"f":"b12","i":0,"x":0.015,"t":102.6,"z":-0.403,"c":0.015},{"f":"b12","i":1,"x":0,"t":0,"z":0,"c":0.015},{"f":"b12","i":2,"x":0.0095,"t":0,"z":0.027,"c":0.015},{"f":"b12","i":3,"x":0.012,"t":23,"z":-0.028,"c":0.015},{"f":"b12","i":4,"x":0.012,"t":25.6,"z":0.026,"c":0.015},{"f":"b12","i":5,"x":0.012,"t":30.1,"z":0.054,"c":0.015},{"f":"b12","i":6,"x":0.0127,"t":43,"z":0,"c":0.015},
{"f":"c00","i":0,"x":0.015,"t":160.7,"z":-0.061,"c":0},{"f":"c00","i":1,"x":0.0136,"t":228,"z":0,"c":0.12},{"f":"c00","i":2,"x":0.015,"t":232.3,"z":-0.113,"c":0.04},{"f":"c00","i":3,"x":0.015,"t":221.8,"z":-0.232,"c":-0.06},{"f":"c00","i":4,"x":0.015,"t":211.4,"z":-0.314,"c":-0.15},{"f":"c00","i":5,"x":0.015,"t":202.9,"z":-0.323,"c":-0.18},{"f":"c00","i":6,"x":0.015,"t":176.4,"z":-0.194,"c":0.02},{"f":"c00","i":7,"x":0.0141,"t":143.5,"z":0,"c":0},
{"f":"c01","i":0,"x":0.02,"t":135.4,"z":0.294,"c":0},{"f":"c01","i":1,"x":0.03,"t":178,"z":0.413,"c":-0.25},{"f":"c01","i":2,"x":0.03,"t":172.4,"z":0.448,"c":-0.05},{"f":"c01","i":3,"x":0.03,"t":166.7,"z":0.432,"c":0.02},{"f":"c01","i":4,"x":0.03,"t":162.9,"z":0.367,"c":0.08},{"f":"c01","i":5,"x":0.03,"t":160.1,"z":0.299,"c":0.14},{"f":"c01","i":6,"x":0.03,"t":156.7,"z":0.222,"c":0.19},{"f":"c01","i":7,"x":0.03,"t":153.5,"z":0.144,"c":0.24},{"f":"c01","i":8,"x":0.03,"t":150.6,"z":0.065,"c":0.28},{"f":"c01","i":9,"x":0.03,"t":147.8,"z":-0.014,"c":0.33},{"f":"c01","i":10,"x":0.03,"t":145.3,"z":-0.072,"c":0.35},{"f":"c01","i":11,"x":0.03,"t":143.1,"z":-0.131,"c":0.33},{"f":"c01","i":12,"x":0.03,"t":139.6,"z":-0.185,"c":0.25},{"f":"c01","i":13,"x":0.03,"t":132.9,"z":-0.282,"c":0.15},{"f":"c01","i":14,"x":0.024,"t":108.6,"z":-0.188,"c":0},
{"f":"c02","i":0,"x":0.024,"t":108.6,"z":-0.188,"c":0},{"f":"c02","i":1,"x":0.02,"t":141.6,"z":0.3,"c":0.34},{"f":"c02","i":2,"x":0.024,"t":163.5,"z":0.131,"c":0.3},{"f":"c02","i":3,"x":0.024,"t":154.1,"z":0.027,"c":0.17},{"f":"c02","i":4,"x":0.024,"t":148.4,"z":-0.055,"c":0.03},{"f":"c02","i":5,"x":0.024,"t":144.6,"z":-0.131,"c":-0.05},{"f":"c02","i":6,"x":0.024,"t":140.8,"z":-0.208,"c":-0.12},{"f":"c02","i":7,"x":0.024,"t":136.1,"z":-0.293,"c":-0.25},{"f":"c02","i":8,"x":0.024,"t":132.3,"z":-0.375,"c":-0.28},{"f":"c02","i":9,"x":0.024,"t":140.8,"z":-0.451,"c":0},
{"f":"c03","i":0,"x":0.015,"t":202.9,"z":-0.323,"c":0},{"f":"c03","i":1,"x":0.0141,"t":143.5,"z":0,"c":-0.2},{"f":"c03","i":2,"x":0.018,"t":183.7,"z":-0.167,"c":-0.22},{"f":"c03","i":3,"x":0.024,"t":240.8,"z":-0.451,"c":0},
{"f":"c04","i":0,"x":0.0141,"t":143.5,"z":0,"c":0},{"f":"c04","i":1,"x":0.018,"t":183.7,"z":-0.167,"c":-0.22},{"f":"c04","i":2,"x":0.018,"t":176.1,"z":-0.098,"c":-0.16},{"f":"c04","i":3,"x":0.018,"t":159.1,"z":0.065,"c":-0.08},{"f":"c04","i":4,"x":0.018,"t":138.3,"z":0.282,"c":-0.01},{"f":"c04","i":5,"x":0.02,"t":141.6,"z":0.3,"c":0.03},{"f":"c04","i":6,"x":0.024,"t":163.5,"z":0.131,"c":0.06},{"f":"c04","i":7,"x":0.024,"t":154.1,"z":0.027,"c":0.09},{"f":"c04","i":8,"x":0.024,"t":148.4,"z":-0.055,"c":0.12},{"f":"c04","i":9,"x":0.024,"t":140.8,"z":-0.208,"c":0.14},{"f":"c04","i":10,"x":0.024,"t":136.1,"z":-0.293,"c":0.15},{"f":"c04","i":11,"x":0.024,"t":132.3,"z":-0.375,"c":0.12},{"f":"c04","i":12,"x":0.024,"t":140.8,"z":-0.451,"c":0},
{"f":"c05","i":0,"x":0.024,"t":140.8,"z":-0.451,"c":0},{"f":"c05","i":1,"x":0.0141,"t":143.5,"z":0,"c":0.12},{"f":"c05","i":2,"x":0.015,"t":139.8,"z":-0.048,"c":0.08},{"f":"c05","i":3,"x":0.015,"t":130.4,"z":-0.104,"c":0},{"f":"c05","i":4,"x":0.015,"t":120.9,"z":-0.186,"c":-0.08},{"f":"c05","i":5,"x":0.015,"t":111.4,"z":-0.258,"c":-0.16},{"f":"c05","i":6,"x":0.015,"t":102.9,"z":-0.323,"c":0},
{"f":"c06","i":0,"x":0.02,"t":35.4,"z":0.294,"c":0},{"f":"c06","i":1,"x":0.03,"t":78,"z":0.413,"c":-0.25},{"f":"c06","i":2,"x":0.03,"t":72.4,"z":0.448,"c":-0.05},{"f":"c06","i":3,"x":0.03,"t":66.7,"z":0.432,"c":0.02},{"f":"c06","i":4,"x":0.03,"t":62.9,"z":0.367,"c":0.08},{"f":"c06","i":5,"x":0.03,"t":60.1,"z":0.299,"c":0.14},{"f":"c06","i":6,"x":0.03,"t":56.7,"z":0.222,"c":0.19},{"f":"c06","i":7,"x":0.03,"t":53.5,"z":0.144,"c":0.24},{"f":"c06","i":8,"x":0.03,"t":50.6,"z":0.065,"c":0.28},{"f":"c06","i":9,"x":0.03,"t":47.8,"z":-0.014,"c":0.33},{"f":"c06","i":10,"x":0.03,"t":45.3,"z":-0.072,"c":0.35},{"f":"c06","i":11,"x":0.03,"t":43.1,"z":-0.131,"c":0.33},{"f":"c06","i":12,"x":0.03,"t":39.6,"z":-0.185,"c":0.28},{"f":"c06","i":13,"x":0.0232,"t":0,"z":-0.03,"c":0.16},{"f":"c06","i":14,"x":0.0214,"t":0,"z":-0.03,"c":0.05},{"f":"c06","i":15,"x":0.0197,"t":0,"z":-0.03,"c":0},{"f":"c06","i":16,"x":0.0185,"t":0,"z":-0.03,"c":0},
{"f":"c07","i":0,"x":0.0149,"t":44.6,"z":0,"c":0},{"f":"c07","i":1,"x":0.018,"t":56.8,"z":0.076,"c":-0.15},{"f":"c07","i":2,"x":0.018,"t":43.6,"z":0.197,"c":-0.08},{"f":"c07","i":3,"x":0.018,"t":34.2,"z":0.298,"c":-0.01},{"f":"c07","i":4,"x":0.02,"t":41.6,"z":0.3,"c":0.03},{"f":"c07","i":5,"x":0.024,"t":62,"z":0.14,"c":0.07},{"f":"c07","i":6,"x":0.024,"t":55.6,"z":0.06,"c":0.11},{"f":"c07","i":7,"x":0.024,"t":48.1,"z":-0.071,"c":0.13},{"f":"c07","i":8,"x":0.0185,"t":0,"z":0.014,"c":0.16},{"f":"c07","i":9,"x":0.0153,"t":0,"z":0.047,"c":0.17},{"f":"c07","i":10,"x":0.0128,"t":0,"z":0.092,"c":0.18},{"f":"c07","i":11,"x":0.0106,"t":0,"z":0.148,"c":0},
{"f":"c08","i":0,"x":0.015,"t":102.9,"z":-0.323,"c":0},{"f":"c08","i":1,"x":0.0149,"t":44.6,"z":0,"c":-0.15},{"f":"c08","i":2,"x":0.018,"t":56.8,"z":0.076,"c":-0.2},{"f":"c08","i":3,"x":0.024,"t":132.3,"z":-0.375,"c":0},
{"f":"c09","i":0,"x":0.00974,"t":0,"z":0.032,"c":0},{"f":"c09","i":1,"x":0.0149,"t":44.6,"z":0,"c":0.05},{"f":"c09","i":2,"x":0.0106,"t":0,"z":0.148,"c":0.07},{"f":"c09","i":3,"x":0.0128,"t":0,"z":0.092,"c":0.07},{"f":"c09","i":4,"x":0.0153,"t":0,"z":0.047,"c":0.06},{"f":"c09","i":5,"x":0.0185,"t":0,"z":0.014,"c":0},
{"f":"c10","i":0,"x":0.01368,"t":0,"z":0.008,"c":0},{"f":"c10","i":1,"x":0.01964,"t":0,"z":0,"c":0.18},{"f":"c10","i":2,"x":0.01943,"t":0,"z":-0.12,"c":0.2},{"f":"c10","i":3,"x":0.01923,"t":0,"z":-0.247,"c":0},
{"f":"c11","i":0,"x":0.01964,"t":0,"z":0,"c":0},{"f":"c11","i":1,"x":0.03,"t":0,"z":-0.012,"c":0.01},{"f":"c11","i":2,"x":0.03,"t":0,"z":-0.104,"c":-0.02},{"f":"c11","i":3,"x":0.03,"t":0,"z":-0.2,"c":-0.05},{"f":"c11","i":4,"x":0.03,"t":0,"z":-0.308,"c":-0.09},{"f":"c11","i":5,"x":0.03,"t":3.3,"z":-0.425,"c":-0.15},{"f":"c11","i":6,"x":0.03,"t":4.2,"z":-0.503,"c":-0.22},{"f":"c11","i":7,"x":0.0265,"t":0,"z":-0.389,"c":-0.26},{"f":"c11","i":8,"x":0.02145,"t":0,"z":-0.28,"c":-0.27},{"f":"c11","i":9,"x":0.01923,"t":0,"z":-0.247,"c":0},
{"f":"c12","i":0,"x":0.015,"t":202.9,"z":-0.323,"c":0.015},{"f":"c12","i":1,"x":0.015,"t":211.4,"z":-0.314,"c":0.015},{"f":"c12","i":2,"x":0.015,"t":221.8,"z":-0.232,"c":0.015},{"f":"c12","i":3,"x":0.015,"t":232.3,"z":-0.113,"c":0.015},{"f":"c12","i":4,"x":0.0136,"t":228,"z":0,"c":0.015},{"f":"c12","i":5,"x":0,"t":200,"z":0,"c":0.015},{"f":"c12","i":6,"x":0,"t":0,"z":0,"c":0.015},{"f":"c12","i":7,"x":0.015,"t":102.9,"z":-0.323,"c":0.015},{"f":"c12","i":8,"x":0.015,"t":111.4,"z":-0.258,"c":0.015},{"f":"c12","i":9,"x":0.015,"t":120.9,"z":-0.186,"c":0.015},{"f":"c12","i":10,"x":0.015,"t":130.4,"z":-0.104,"c":0.015},{"f":"c12","i":11,"x":0.015,"t":139.8,"z":-0.048,"c":0.015},{"f":"c12","i":12,"x":0.0141,"t":143.5,"z":0,"c":0.015},
{"f":"c13","i":0,"x":0.015,"t":102.9,"z":-0.323,"c":0.015},{"f":"c13","i":1,"x":0,"t":0,"z":0,"c":0.015},{"f":"c13","i":2,"x":0.00974,"t":0,"z":0.032,"c":0.015},{"f":"c13","i":3,"x":0.0149,"t":44.6,"z":0,"c":0.015}],
"xlabels":[
{"p":"a","s":"0","x":-0.001,"t":-20,"z":-0.5},{"p":"a","s":"0.01","x":0.01,"t":-20,"z":-0.5},{"p":"a","s":"0.02","x":0.02,"t":-20,"z":-0.5},{"p":"a","s":"0.03","x":0.03,"t":-20,"z":-0.5},{"p":"a","s":"0.04","x":0.04,"t":-20,"z":-0.5},
{"p":"b","s":"0","x":-0.0012,"t":-22,"z":-0.49},{"p":"b","s":"0.01","x":0.01,"t":-22,"z":-0.51},{"p":"b","s":"0.02","x":0.02,"t":-22,"z":-0.51},{"p":"b","s":"0.03","x":0.03,"t":-22,"z":-0.51},
{"p":"c","s":"0","x":-0.0012,"t":-20,"z":-0.49},{"p":"c","s":"0.01","x":0.01,"t":-20,"z":-0.517},{"p":"c","s":"0.02","x":0.02,"t":-20,"z":-0.517},{"p":"c","s":"0.03","x":0.03,"t":-20,"z":-0.517}],
"rlabels":[
{"p":"a","s":"0","x":-0.00155,"t":0,"z":-0.57},{"p":"a","s":"50","x":-0.00155,"t":50,"z":-0.57},{"p":"a","s":"100","x":-0.00155,"t":100,"z":-0.57},{"p":"a","s":"150","x":-0.00155,"t":150,"z":-0.57},{"p":"a","s":"200","x":-0.00155,"t":200,"z":-0.57},
{"p":"a","s":"-0.5","x":-0.0015,"t":200,"z":-0.426},{"p":"a","s":"0","x":-0.0015,"t":200,"z":0.074},{"p":"a","s":"0.5","x":-0.0015,"t":200,"z":0.574},
{"p":"b","s":"0","x":-0.0012,"t":0,"z":-0.559},{"p":"b","s":"50","x":-0.0012,"t":50,"z":-0.559},{"p":"b","s":"100","x":-0.0012,"t":100,"z":-0.559},{"p":"b","s":"150","x":-0.0012,"t":150,"z":-0.559},{"p":"b","s":"200","x":-0.0012,"t":200,"z":-0.559},
{"p":"b","s":"-0.5","x":-0.0012,"t":200,"z":-0.453},{"p":"b","s":"0","x":-0.0012,"t":200,"z":0.047},{"p":"b","s":"0.5","x":-0.0012,"t":200,"z":0.547},
{"p":"c","s":"0","x":-0.0011,"t":0,"z":-0.543},{"p":"c","s":"50","x":-0.0011,"t":50,"z":-0.543},{"p":"c","s":"100","x":-0.0011,"t":100,"z":-0.543},{"p":"c","s":"150","x":-0.0011,"t":150,"z":-0.543},{"p":"c","s":"200","x":-0.0011,"t":200,"z":-0.543},
{"p":"c","s":"-0.5","x":-0.001,"t":200,"z":-0.47},{"p":"c","s":"0","x":-0.001,"t":200,"z":0.03},{"p":"c","s":"0.5","x":-0.001,"t":200,"z":0.53}],
"xtitleA":[{"p":"a","s":"Transverval axis of swimming robot (mm)","x":0.0162,"t":-55.5,"z":-0.5}],
"xtitleB":[{"p":"b","s":"Transverval axis of swimming robot (mm)","x":0.0117,"t":-55.7,"z":-0.5}],
"xtitleC":[{"p":"c","s":"Transverval axis of swimming robot (mm)","x":0.012,"t":-58.6,"z":-0.5}],
"ttitles":[{"p":"a","s":"Time (s)","x":-0.0116,"t":45.5,"z":-0.5},{"p":"b","s":"Time (s)","x":-0.0102,"t":46.3,"z":-0.5},{"p":"c","s":"Time (s)","x":-0.0094,"t":43,"z":-0.5}],
"ztitles":[{"p":"a","s":"Normal axis of swimming robot (mm)","x":-0.0068,"t":200,"z":0.134},{"p":"b","s":"Normal axis of swimming robot (mm)","x":-0.0059,"t":200,"z":0.116},{"p":"c","s":"Normal axis of swimming robot (mm)","x":-0.00525,"t":200,"z":0.0825}],
"tags":[{"p":"a","s":"(a)","x":-0.0134,"t":-109,"z":-0.5},{"p":"b","s":"(b)","x":-0.0126,"t":-109.5,"z":-0.5},{"p":"c","s":"(c)","x":-0.0156,"t":-125.5,"z":-0.5}]
},
"layer":[
{"data":{"name":"grid"},"transform":[
{"calculate":"P[datum.p].ox+P[datum.p].xx*datum.x/P[datum.p].xm+P[datum.p].tx*datum.t/200","as":"px"},
{"calculate":"P[datum.p].oy+P[datum.p].xy*datum.x/P[datum.p].xm+P[datum.p].ty*datum.t/200-P[datum.p].zy*datum.z","as":"py"},
{"calculate":"P[datum.p].ox+P[datum.p].xx*datum.x2/P[datum.p].xm+P[datum.p].tx*datum.t2/200","as":"px2"},
{"calculate":"P[datum.p].oy+P[datum.p].xy*datum.x2/P[datum.p].xm+P[datum.p].ty*datum.t2/200-P[datum.p].zy*datum.z2","as":"py2"}],
"mark":{"type":"rule","color":"#dedede","strokeWidth":1.2},
"encoding":{"x":{"field":"px","type":"quantitative","scale":{"domain":[0,3165],"nice":false,"zero":false},"axis":null},"y":{"field":"py","type":"quantitative","scale":{"domain":[882,0],"nice":false,"zero":false},"axis":null},"x2":{"field":"px2"},"y2":{"field":"py2"}}},
{"data":{"name":"axes"},"transform":[
{"calculate":"P[datum.p].ox+P[datum.p].xx*datum.x/P[datum.p].xm+P[datum.p].tx*datum.t/200","as":"px"},
{"calculate":"P[datum.p].oy+P[datum.p].xy*datum.x/P[datum.p].xm+P[datum.p].ty*datum.t/200-P[datum.p].zy*datum.z","as":"py"},
{"calculate":"P[datum.p].ox+P[datum.p].xx*datum.x2/P[datum.p].xm+P[datum.p].tx*datum.t2/200","as":"px2"},
{"calculate":"P[datum.p].oy+P[datum.p].xy*datum.x2/P[datum.p].xm+P[datum.p].ty*datum.t2/200-P[datum.p].zy*datum.z2","as":"py2"}],
"mark":{"type":"rule","color":"#262626","strokeWidth":1.2},
"encoding":{"x":{"field":"px","type":"quantitative","axis":null},"y":{"field":"py","type":"quantitative","axis":null},"x2":{"field":"px2"},"y2":{"field":"py2"}}},
{"data":{"name":"surfaceA"},"transform":[
{"window":[{"op":"lead","field":"z","as":"zx"},{"op":"lead","field":"x","as":"x1"}],"groupby":["t"],"sort":[{"field":"x","order":"ascending"}]},
{"window":[{"op":"lead","field":"z","as":"zt"},{"op":"lead","field":"t","as":"t1"},{"op":"lead","field":"zx","as":"zxt"}],"groupby":["x"],"sort":[{"field":"t","order":"ascending"}]},
{"filter":"isValid(datum.x1)&&isValid(datum.t1)"},
{"fold":["zx","zt"],"as":["tri","zo"]},
{"calculate":"(datum.z+datum.zo+datum.zxt)/3","as":"c"},
{"calculate":"datum.t+'_'+datum.x+'_'+datum.tri","as":"id"},
{"fold":["z","zo","zxt"],"as":["k","v"]},
{"calculate":"datum.k=='z'?0:(datum.k=='zo'?1:2)","as":"o"},
{"calculate":"datum.o==0?datum.x:(datum.o==2?datum.x1:(datum.tri=='zx'?datum.x1:datum.x))","as":"X"},
{"calculate":"datum.o==0?datum.t:(datum.o==2?datum.t1:(datum.tri=='zx'?datum.t:datum.t1))","as":"T"},
{"calculate":"472+469*datum.X/0.04-350*datum.T/200","as":"px"},
{"calculate":"531-171*datum.X/0.04-229.5*datum.T/200-207*datum.v","as":"py"}],
"mark":{"type":"line","filled":true,"strokeWidth":1},
"encoding":{"x":{"field":"px","type":"quantitative","axis":null},"y":{"field":"py","type":"quantitative","axis":null},"detail":{"field":"id"},"order":{"field":"o","type":"quantitative"},
"color":{"field":"c","type":"quantitative","legend":null,"scale":{"domain":[-0.5,0.5],"range":["#3E26A8","#4852F4","#2D87F7","#12B1D6","#37C897","#ABC739","#FEC338","#F9FB15"]}},
"stroke":{"field":"c","type":"quantitative","legend":null,"scale":{"domain":[-0.5,0.5],"range":["#3E26A8","#4852F4","#2D87F7","#12B1D6","#37C897","#ABC739","#FEC338","#F9FB15"]}}}},
{"data":{"name":"fans"},"transform":[
{"window":[{"op":"first_value","field":"x","as":"ax"},{"op":"first_value","field":"t","as":"at"},{"op":"first_value","field":"z","as":"az"},{"op":"lead","field":"x","as":"x1"},{"op":"lead","field":"t","as":"t1"},{"op":"lead","field":"z","as":"z1"}],"groupby":["f"],"sort":[{"field":"i","order":"ascending"}]},
{"filter":"datum.i>0&&isValid(datum.x1)"},
{"calculate":"datum.f+'_'+datum.i","as":"id"},
{"calculate":"substring(datum.f,0,1)","as":"p"},
{"fold":["az","z","z1"],"as":["k","v"]},
{"calculate":"datum.k=='az'?0:(datum.k=='z'?1:2)","as":"o"},
{"calculate":"datum.o==0?datum.ax:(datum.o==1?datum.x:datum.x1)","as":"X"},
{"calculate":"datum.o==0?datum.at:(datum.o==1?datum.t:datum.t1)","as":"T"},
{"calculate":"P[datum.p].ox+P[datum.p].xx*datum.X/P[datum.p].xm+P[datum.p].tx*datum.T/200","as":"px"},
{"calculate":"P[datum.p].oy+P[datum.p].xy*datum.X/P[datum.p].xm+P[datum.p].ty*datum.T/200-P[datum.p].zy*datum.v","as":"py"}],
"mark":{"type":"line","filled":true,"strokeWidth":1},
"encoding":{"x":{"field":"px","type":"quantitative","axis":null},"y":{"field":"py","type":"quantitative","axis":null},"detail":{"field":"id"},"order":{"field":"o","type":"quantitative"},
"color":{"field":"c","type":"quantitative","legend":null},"stroke":{"field":"c","type":"quantitative","legend":null}}},
{"data":{"name":"moire"},"transform":[
{"calculate":"P[datum.p].ox+P[datum.p].xx*datum.x/P[datum.p].xm+P[datum.p].tx*datum.t/200","as":"px"},
{"calculate":"P[datum.p].oy+P[datum.p].xy*datum.x/P[datum.p].xm+P[datum.p].ty*datum.t/200-P[datum.p].zy*datum.z","as":"py"},
{"calculate":"P[datum.p].ox+P[datum.p].xx*datum.x2/P[datum.p].xm+P[datum.p].tx*datum.t2/200","as":"px2"},
{"calculate":"P[datum.p].oy+P[datum.p].xy*datum.x2/P[datum.p].xm+P[datum.p].ty*datum.t2/200-P[datum.p].zy*datum.z2","as":"py2"}],
"mark":{"type":"rule","color":"#ffffff","strokeWidth":1.2,"opacity":0.3},
"encoding":{"x":{"field":"px","type":"quantitative","axis":null},"y":{"field":"py","type":"quantitative","axis":null},"x2":{"field":"px2"},"y2":{"field":"py2"}}},
{"data":{"name":"xlabels"},"transform":[
{"calculate":"P[datum.p].ox+P[datum.p].xx*datum.x/P[datum.p].xm+P[datum.p].tx*datum.t/200","as":"px"},
{"calculate":"P[datum.p].oy+P[datum.p].xy*datum.x/P[datum.p].xm+P[datum.p].ty*datum.t/200-P[datum.p].zy*datum.z","as":"py"}],
"mark":{"type":"text","font":"Liberation Sans","align":"center","baseline":"middle","color":"#262626"},
"encoding":{"x":{"field":"px","type":"quantitative","axis":null},"y":{"field":"py","type":"quantitative","axis":null},"text":{"field":"s"},"size":{"field":"p","type":"nominal","legend":null,"scale":{"domain":["a","b","c"],"range":[21,25,21]}}}},
{"data":{"name":"rlabels"},"transform":[
{"calculate":"P[datum.p].ox+P[datum.p].xx*datum.x/P[datum.p].xm+P[datum.p].tx*datum.t/200","as":"px"},
{"calculate":"P[datum.p].oy+P[datum.p].xy*datum.x/P[datum.p].xm+P[datum.p].ty*datum.t/200-P[datum.p].zy*datum.z","as":"py"}],
"mark":{"type":"text","font":"Liberation Sans","align":"right","baseline":"middle","color":"#262626"},
"encoding":{"x":{"field":"px","type":"quantitative","axis":null},"y":{"field":"py","type":"quantitative","axis":null},"text":{"field":"s"},"size":{"field":"p","type":"nominal","legend":null,"scale":{"domain":["a","b","c"],"range":[21,25,21]}}}},
{"data":{"name":"xtitleA"},"transform":[
{"calculate":"P[datum.p].ox+P[datum.p].xx*datum.x/P[datum.p].xm+P[datum.p].tx*datum.t/200","as":"px"},
{"calculate":"P[datum.p].oy+P[datum.p].xy*datum.x/P[datum.p].xm+P[datum.p].ty*datum.t/200-P[datum.p].zy*datum.z","as":"py"}],
"mark":{"type":"text","font":"Liberation Serif","align":"center","baseline":"middle","color":"#262626","angle":341,"fontSize":27.5},
"encoding":{"x":{"field":"px","type":"quantitative","axis":null},"y":{"field":"py","type":"quantitative","axis":null},"text":{"field":"s"}}},
{"data":{"name":"xtitleB"},"transform":[
{"calculate":"P[datum.p].ox+P[datum.p].xx*datum.x/P[datum.p].xm+P[datum.p].tx*datum.t/200","as":"px"},
{"calculate":"P[datum.p].oy+P[datum.p].xy*datum.x/P[datum.p].xm+P[datum.p].ty*datum.t/200-P[datum.p].zy*datum.z","as":"py"}],
"mark":{"type":"text","font":"Liberation Serif","align":"center","baseline":"middle","color":"#262626","angle":344.4,"fontSize":31},
"encoding":{"x":{"field":"px","type":"quantitative","axis":null},"y":{"field":"py","type":"quantitative","axis":null},"text":{"field":"s"}}},
{"data":{"name":"xtitleC"},"transform":[
{"calculate":"P[datum.p].ox+P[datum.p].xx*datum.x/P[datum.p].xm+P[datum.p].tx*datum.t/200","as":"px"},
{"calculate":"P[datum.p].oy+P[datum.p].xy*datum.x/P[datum.p].xm+P[datum.p].ty*datum.t/200-P[datum.p].zy*datum.z","as":"py"}],
"mark":{"type":"text","font":"Liberation Serif","align":"center","baseline":"middle","color":"#262626","angle":339.6,"fontSize":27},
"encoding":{"x":{"field":"px","type":"quantitative","axis":null},"y":{"field":"py","type":"quantitative","axis":null},"text":{"field":"s"}}},
{"data":{"name":"ttitles"},"transform":[
{"calculate":"P[datum.p].ox+P[datum.p].xx*datum.x/P[datum.p].xm+P[datum.p].tx*datum.t/200","as":"px"},
{"calculate":"P[datum.p].oy+P[datum.p].xy*datum.x/P[datum.p].xm+P[datum.p].ty*datum.t/200-P[datum.p].zy*datum.z","as":"py"}],
"mark":{"type":"text","font":"Liberation Serif","align":"center","baseline":"middle","color":"#262626"},
"encoding":{"x":{"field":"px","type":"quantitative","axis":null},"y":{"field":"py","type":"quantitative","axis":null},"text":{"field":"s"},"size":{"field":"p","type":"nominal","legend":null,"scale":{"domain":["a","b","c"],"range":[27.5,31,27]}}}},
{"data":{"name":"ztitles"},"transform":[
{"calculate":"P[datum.p].ox+P[datum.p].xx*datum.x/P[datum.p].xm+P[datum.p].tx*datum.t/200","as":"px"},
{"calculate":"P[datum.p].oy+P[datum.p].xy*datum.x/P[datum.p].xm+P[datum.p].ty*datum.t/200-P[datum.p].zy*datum.z","as":"py"}],
"mark":{"type":"text","font":"Liberation Serif","align":"center","baseline":"middle","color":"#262626","angle":270},
"encoding":{"x":{"field":"px","type":"quantitative","axis":null},"y":{"field":"py","type":"quantitative","axis":null},"text":{"field":"s"},"size":{"field":"p","type":"nominal","legend":null,"scale":{"domain":["a","b","c"],"range":[27.5,31,27]}}}},
{"data":{"name":"tags"},"transform":[
{"calculate":"P[datum.p].ox+P[datum.p].xx*datum.x/P[datum.p].xm+P[datum.p].tx*datum.t/200","as":"px"},
{"calculate":"P[datum.p].oy+P[datum.p].xy*datum.x/P[datum.p].xm+P[datum.p].ty*datum.t/200-P[datum.p].zy*datum.z","as":"py"}],
"mark":{"type":"text","font":"Liberation Serif","fontWeight":"bold","fontSize":70,"align":"center","baseline":"middle","color":"#000000"},
"encoding":{"x":{"field":"px","type":"quantitative","axis":null},"y":{"field":"py","type":"quantitative","axis":null},"text":{"field":"s"}}}
]}
